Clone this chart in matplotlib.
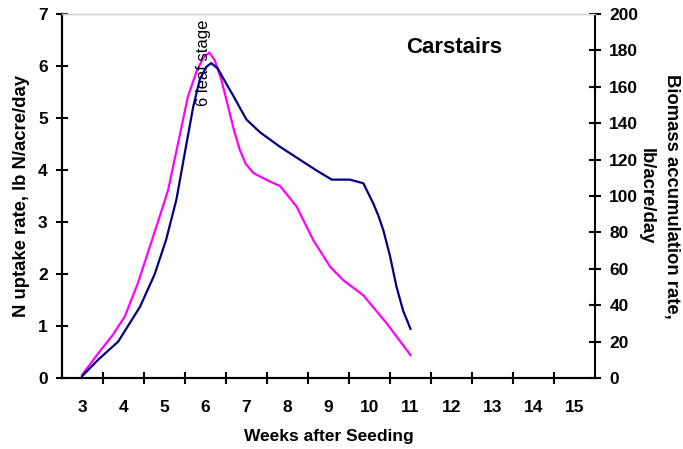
import matplotlib
matplotlib.use("Agg")
import matplotlib.pyplot as plt
from matplotlib.ticker import FixedLocator, MultipleLocator

plt.rcParams['font.family'] = ['Liberation Sans', 'DejaVu Sans']

# weeks after seeding
n_weeks = [2.99, 3.38, 3.74, 4.03, 4.35, 4.64, 4.88, 5.09, 5.33, 5.57, 5.78, 5.94,
           6.09, 6.22, 6.39, 6.55, 6.70, 6.84, 6.98, 7.17, 7.49, 7.82, 8.22, 8.63,
           9.04, 9.36, 9.85, 10.42, 11.0]
n_uptake = [0.06, 0.47, 0.83, 1.18, 1.82, 2.52, 3.10, 3.62, 4.51, 5.41, 5.89, 6.15,
            6.26, 6.12, 5.73, 5.22, 4.75, 4.38, 4.12, 3.94, 3.81, 3.69, 3.30, 2.65,
            2.14, 1.88, 1.59, 1.05, 0.44]

bio_weeks = [2.99, 3.38, 3.87, 4.40, 4.76, 5.04, 5.29, 5.49, 5.70, 5.86, 6.02, 6.14,
             6.30, 6.55, 6.68, 6.85, 7.0, 7.33, 7.82, 8.71, 9.08, 9.52, 9.85, 10.09,
             10.22, 10.34, 10.50, 10.66, 10.82, 11.0]
biomass = [1, 10, 20, 39, 57, 76, 98, 123, 149, 164, 171, 173,
           170, 160, 155, 148, 142, 135, 127, 114, 109, 109, 107, 96,
           89, 81, 67, 50, 37, 27]

week_labels = [str(w) for w in range(3, 16)]

fig = plt.figure(figsize=(6.83, 4.49), dpi=100)
ax = fig.add_axes([62 / 683, 1 - 378 / 449, 533 / 683, 364 / 449])
ax2 = ax.twinx()

ax.plot(n_weeks, n_uptake, color='#FF00FF', lw=1.6, zorder=3,
        solid_joinstyle='round')
ax2.plot(bio_weeks, biomass, color='#000080', lw=1.6, zorder=3,
         solid_joinstyle='round')

ax.set_xlim(2.5, 15.5)
ax.set_ylim(0, 7)
ax2.set_ylim(0, 200)

ax.xaxis.set_major_locator(FixedLocator(range(3, 16)))
ax.set_xticklabels(week_labels)
ax.xaxis.set_minor_locator(FixedLocator([w + 0.5 for w in range(3, 15)]))
ax.yaxis.set_major_locator(MultipleLocator(1))
ax2.yaxis.set_major_locator(MultipleLocator(20))

ax.tick_params(axis='x', which='major', length=0, pad=16, labelsize=12.5)
ax.tick_params(axis='x', which='minor', direction='inout', length=9, width=1.5)
ax.tick_params(axis='y', direction='inout', length=8.6, width=1.5, pad=6, labelsize=12.5)
ax2.tick_params(axis='y', direction='inout', length=8.6, width=1.5, pad=6, labelsize=12.5)
for lab in ax.get_xticklabels() + ax.get_yticklabels() + ax2.get_yticklabels():
    lab.set_fontweight('bold')

for a in (ax, ax2):
    a.spines['left'].set_linewidth(1.5)
    a.spines['bottom'].set_linewidth(1.5)
    a.spines['right'].set_linewidth(1.5)
    a.spines['top'].set_color('#d4d4d4')
    a.spines['top'].set_linewidth(1)
ax.spines['right'].set_visible(False)

ax.set_ylabel('N uptake rate, lb N/acre/day', fontsize=13.3, fontweight='bold')
ax.yaxis.set_label_coords(-0.0756, 0.5)
ax.yaxis.label.set_va('center')
ax.set_xlabel('Weeks after Seeding', fontsize=12.5, fontweight='bold')
ax.xaxis.set_label_coords(0.5, -0.161)
ax.xaxis.label.set_va('center')

ax2.set_ylabel('Biomass accumulation rate,\nlb/acre/day', fontsize=13.3,
               fontweight='bold', rotation=270, va='center', ha='center',
               linespacing=1.6)
ax2.yaxis.set_label_coords(1.12, 0.5)

ax.text(0.7355, 0.9066, 'Carstairs', transform=ax.transAxes, ha='center',
        va='center', fontsize=16, fontweight='bold')
ax.text(5.94, 6.06, '6 leaf stage', rotation=90, ha='center', va='center',
        fontsize=12)

fig.savefig('out.png', dpi=100)
